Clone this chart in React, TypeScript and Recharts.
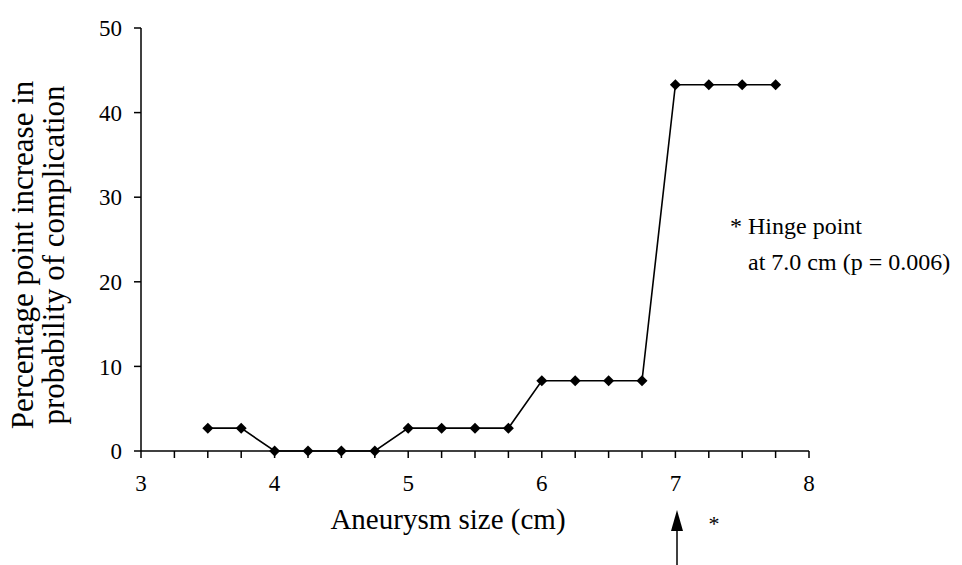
import { LineChart, Line, XAxis, YAxis } from "recharts";

// aneurysm size (cm) and percentage point increase in probability of complication
const sizes = [3.5, 3.75, 4, 4.25, 4.5, 4.75, 5, 5.25, 5.5, 5.75, 6, 6.25, 6.5, 6.75, 7, 7.25, 7.5, 7.75];
const increases = [2.7, 2.7, 0, 0, 0, 0, 2.7, 2.7, 2.7, 2.7, 8.3, 8.3, 8.3, 8.3, 43.3, 43.3, 43.3, 43.3];
const xTicks = [3, 3.25, 3.5, 3.75, 4, 4.25, 4.5, 4.75, 5, 5.25, 5.5, 5.75, 6, 6.25, 6.5, 6.75, 7, 7.25, 7.5, 7.75, 8];
const yTicks = [0, 10, 20, 30, 40, 50];

const data = sizes.map((s, i) => ({ size: s, value: increases[i] }));

const serif = { fontFamily: '"Liberation Serif", "Times New Roman", serif' };

function Diamond(props: any) {
  const { cx, cy } = props;
  if (cx == null || cy == null) return null;
  const r = 5.5;
  return (
    <path
      d={`M${cx},${cy - r}L${cx + r},${cy}L${cx},${cy + r}L${cx - r},${cy}Z`}
      fill="#000"
      stroke="none"
    />
  );
}

function XTick(props: any) {
  const { x, y, payload } = props;
  const v = payload.value;
  if (!Number.isInteger(v)) return null;
  return (
    <text x={x} y={y} dy="0.71em" textAnchor="middle" fontSize={23} style={serif} fill="#000">
      {v}
    </text>
  );
}

function YTick(props: any) {
  const { x, y, payload } = props;
  return (
    <text x={x} y={y} dy="0.355em" textAnchor="end" fontSize={23} style={serif} fill="#000">
      {payload.value}
    </text>
  );
}

export default function App() {
  return (
    <div style={{ position: "absolute", left: 0, top: 0, width: 962, height: 565, background: "#fff", ...serif }}>
      <LineChart
        width={962}
        height={565}
        data={data}
        margin={{ top: 28, right: 153, left: 0, bottom: 0 }}
      >
        <XAxis
          type="number"
          dataKey="size"
          domain={[3, 8]}
          ticks={xTicks}
          interval={0}
          tickSize={7}
          tickMargin={17}
          height={114}
          axisLine={{ stroke: "#000", strokeWidth: 1.5 }}
          tickLine={{ stroke: "#000", strokeWidth: 1.5 }}
          tick={<XTick />}
        />
        <YAxis
          type="number"
          domain={[0, 50]}
          ticks={yTicks}
          interval={0}
          width={141}
          tickSize={7}
          tickMargin={12}
          axisLine={{ stroke: "#000", strokeWidth: 1.5 }}
          tickLine={{ stroke: "#000", strokeWidth: 1.5 }}
          tick={<YTick />}
        />
        <Line
          type="linear"
          dataKey="value"
          stroke="#000"
          strokeWidth={1.6}
          dot={<Diamond />}
          activeDot={false}
          isAnimationActive={false}
        />
      </LineChart>
      <svg
        width={962}
        height={565}
        style={{ position: "absolute", left: 0, top: 0, pointerEvents: "none", ...serif }}
        fill="#000"
      >
        <text x={448} y={529} fontSize={29} textAnchor="middle" style={serif}>Aneurysm size (cm)</text>
        <text transform="translate(33,255) rotate(-90)" fontSize={31} textAnchor="middle" style={serif}>
          Percentage point increase in
        </text>
        <text transform="translate(64,255) rotate(-90)" fontSize={31} textAnchor="middle" style={serif}>
          probability of complication
        </text>
        <text x={730} y={234} fontSize={24} style={serif}>* Hinge point</text>
        <text x={748} y={270} fontSize={24} style={serif}>at 7.0 cm (p = 0.006)</text>
        <line x1={677} y1={565} x2={677} y2={526} stroke="#000" strokeWidth={1.5} />
        <polygon points="677,510 671,531 683,531" fill="#000" />
        <text x={714} y={531} fontSize={22} textAnchor="middle" style={serif}>*</text>
      </svg>
    </div>
  );
}
